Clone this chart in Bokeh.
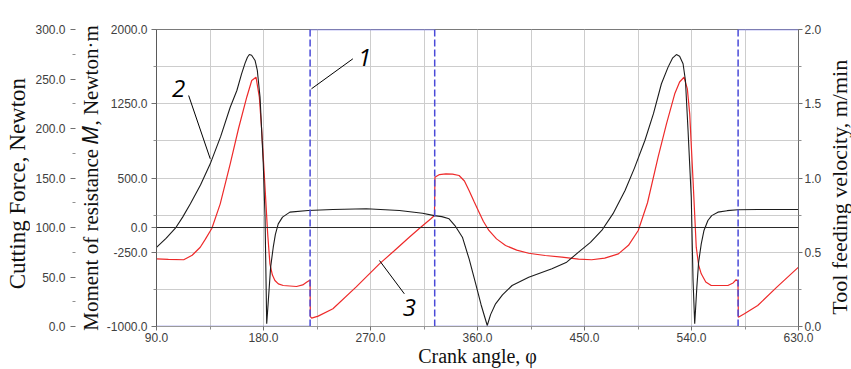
import math
from bokeh.plotting import figure
from bokeh.layouts import row
from bokeh.models import (LinearAxis, Range1d, FixedTicker, NumeralTickFormatter,
                          Label, Span)
from bokeh.embed import file_html
from bokeh.resources import INLINE

# ---------------- data ----------------
angle_force = [90, 98, 105.9, 112, 118.5, 127, 135.2, 144, 152, 157.6, 161.5, 164.5, 166.5,
               168.1, 170, 172.9, 174.8, 177.1, 179.8, 181.3, 182.7, 184, 186, 188.2, 190,
               192.4, 196, 202.2, 217.5, 238.4, 266.4, 294.3, 313.8, 323.6, 330, 336.1,
               341, 347.3, 353, 358.5, 363, 368.2, 371, 375.2, 381, 389.1, 403.1, 422.6,
               435, 445, 455, 464.5, 474, 484.1, 492, 500.8, 508, 514.7, 520.3, 524,
               527.3, 530, 532.9, 534.9, 537.1, 539.8, 541.3, 542.7, 544.5, 546, 548.2,
               550.5, 553.8, 557, 562.2, 570, 578.9, 595.7, 630]
force = [80, 89, 99.3, 110.5, 123.9, 143, 164.3, 192, 221.5, 238.4, 255, 266, 272,
         274.7, 274, 268.7, 258.6, 231.6, 164.3, 110.4, 2.7, 25, 60, 80.1, 93,
         103.7, 110.5, 115.5, 117.2, 118.2, 118.9, 117.2, 114.4, 112, 111, 108.8,
         102, 90.2, 68, 43.1, 22, 1, 12, 22.9, 32, 41.4, 49.8, 58.3,
         65, 75.1, 85, 97, 114, 137.4, 160, 187.9, 215, 245.2, 262, 271,
         274.7, 273, 265.4, 248.5, 198, 130.6, 46.5, 2.7, 40, 65, 83.5,
         97, 107.1, 112, 115.5, 117, 117.9, 118.2, 118.2]

angle_moment = [90, 100, 112.9, 120, 126.8, 131, 136.6, 143.6, 152, 159, 165.9, 170.1,
                173.7, 176.5, 178.5, 181.3, 183.5, 185.4, 187.5, 189.6, 192.5, 196.6,
                207.8, 213, 216.2, 219.2, 219.4, 220.5, 226, 238.4, 258, 277.5, 290,
                302.6, 312, 320.8, 323.8, 324.2, 328, 333.4, 339, 344.5, 349, 352.9,
                357, 361.3, 365, 369.6, 376, 383.6, 393, 403.1, 417, 431, 445, 456,
                467, 478.5, 487, 495.2, 503, 511.9, 519, 525.9, 530, 533.7, 536.5,
                538.5, 541.3, 544, 546, 548.2, 552, 556.6, 570.6, 575, 577.5, 579.1,
                579.4, 584.5, 595.7, 612, 630]
moment = [-316, -322, -326, -280, -199, -120, -7, 239, 643, 1000, 1316, 1485,
          1518, 1316, 980, 400, -60, -367, -480, -535, -570, -586,
          -596, -580, -553, -530, -900, -915, -895, -821, -600, -367, -235,
          -98, 0, 88, 121, 508, 535, 542, 540, 525, 470, 374,
          265, 155, 60, -30, -115, -182, -228, -260, -283, -300, -320, -326,
          -310, -266, -180, -30, 250, 710, 1050, 1350, 1470, 1518, 1400,
          1148, 475, -199, -380, -468, -550, -586, -586, -560, -528, -540,
          -906, -872, -788, -600, -400]

angle_velocity = [90, 219.2, 219.2, 324.0, 324.0, 579.2, 579.2, 630]
velocity = [0, 0, 2, 2, 0, 0, 2, 2]

x_ticks = [90, 180, 270, 360, 450, 540, 630]
x_minor = [135, 225, 315, 405, 495, 585]
x_grid = [90, 135, 180, 225, 270, 315, 360, 405, 450, 495, 540, 585, 630]
moment_ticks = [-1000, -250, 0, 500, 1250, 2000]
moment_minor = [-625, 125, 875, 1625]
moment_grid = [-1000, -625, -250, 125, 500, 875, 1250, 1625, 2000]
force_ticks = [0, 50, 100, 150, 200, 250, 300]
force_minor = [25, 75, 125, 175, 225, 275]
velocity_ticks = [0, 0.5, 1.0, 1.5, 2.0]
velocity_minor = [0.25, 0.75, 1.25, 1.75]

title_force = "Cutting Force, Newton"
title_moment = "Moment of resistance \U0001D440, Newton\u00b7m"
title_velocity = "Tool feeding velocity, m/min"
title_angle = "Crank angle, \u03c6"
curve_labels = ["1", "2", "3"]

# ---------------- layout (page pixels) ----------------
H = 369
LEFT_W, RIGHT_W = 30, 27
MAIN_W = 851 - LEFT_W - RIGHT_W
FL, FR, FT, FB = 156, 801, 29, 326   # frame edges in page pixels

SERIF = "Liberation Serif"
TICK_FONT = "Liberation Sans"
TICK_COLOR = "#404040"


def dx(px):
    return 90 + (px - FL) * 540.0 / (FR - FL)


def dy(py):
    return -1000 + (FB - py) * 3000.0 / (FB - FT)


def title_strip(width, x_off, text, cx, cy, size):
    """A thin figure holding a vertical axis title (reads bottom to top)."""
    f = figure(width=width, height=H, x_range=Range1d(0, width), y_range=Range1d(H, 0),
               x_axis_type=None, y_axis_type=None, output_backend="svg",
               toolbar_location=None, min_border=0)
    f.outline_line_color = None
    f.background_fill_color = "white"
    f.border_fill_color = "white"
    f.add_layout(Label(x=cx - x_off, y=cy, text=text, angle=math.pi / 2,
                       text_font=SERIF, text_font_size=f"{size}px",
                       text_color="#111111", text_align="center", text_baseline="middle"))
    return f


p = figure(width=MAIN_W, height=H, x_range=Range1d(90, 630), y_range=Range1d(-1000, 2000),
           output_backend="svg", toolbar_location=None,
           min_border_left=FL - LEFT_W, min_border_right=LEFT_W + MAIN_W - FR,
           min_border_top=FT, min_border_bottom=H - FB)
p.extra_y_ranges = {"force": Range1d(0, 300), "velocity": Range1d(0, 2)}
p.background_fill_color = "white"
p.border_fill_color = "white"
p.outline_line_color = "#7a7a7a"
p.outline_line_width = 1


def style_axis(ax, ticks, minor, line_color):
    ax.ticker = FixedTicker(ticks=ticks, minor_ticks=minor)
    ax.formatter = NumeralTickFormatter(format="0.0")
    ax.major_label_text_font = TICK_FONT
    ax.major_label_text_font_size = "12px"
    ax.major_label_text_color = TICK_COLOR
    ax.axis_line_color = line_color
    ax.major_tick_line_color = "#707070"
    ax.minor_tick_line_color = "#909090"
    ax.major_tick_in = 0
    ax.minor_tick_in = 0
    ax.major_tick_out = 5
    ax.minor_tick_out = 3


def style_title(ax, title, size, standoff):
    ax.axis_label = title
    ax.axis_label_text_font = SERIF
    ax.axis_label_text_font_style = "normal"
    ax.axis_label_text_font_size = f"{size}px"
    ax.axis_label_text_color = "#111111"
    ax.axis_label_standoff = standoff


# x axis
xa = p.xaxis[0]
style_axis(xa, x_ticks, x_minor, "#9a9a9a")
style_title(xa, title_angle, 20, 0)
xa.major_tick_out = 4
xa.major_label_standoff = 2

# moment axis (inner left)
ya = p.yaxis[0]
style_axis(ya, moment_ticks, moment_minor, "#5a5a5a")
style_title(ya, title_moment, 21, 1)
ya.major_label_standoff = 4

# force axis (outer left)
fa = LinearAxis(y_range_name="force")
style_axis(fa, force_ticks, force_minor, None)
fa.major_label_standoff = 5
p.add_layout(fa, "left")

# velocity axis (right)
va = LinearAxis(y_range_name="velocity")
style_axis(va, velocity_ticks, velocity_minor, "#6a6a6a")
va.major_tick_out = 4
va.major_label_standoff = 2
p.add_layout(va, "right")

p.xgrid.ticker = FixedTicker(ticks=x_grid)
p.ygrid.ticker = FixedTicker(ticks=moment_grid)
for g in (p.xgrid, p.ygrid):
    g.grid_line_color = "#cdcdcd"
    g.grid_line_width = 1

# zero line of the moment scale
p.add_layout(Span(location=0, dimension="width", line_color="#2a2a2a", line_width=1.2))

# curves
p.line(angle_moment, moment, line_color="#ee2a2a", line_width=1.2)
p.line(angle_force, force, y_range_name="force", line_color="#1c1c1c", line_width=1.1)

# velocity: horizontal parts solid, vertical jumps dashed
hx0, hx1, hy0, hy1, vx0, vx1, vy0, vy1 = [], [], [], [], [], [], [], []
for i in range(len(angle_velocity) - 1):
    a0, a1 = angle_velocity[i], angle_velocity[i + 1]
    v0, v1 = velocity[i], velocity[i + 1]
    if v0 == v1:
        hx0.append(a0); hx1.append(a1); hy0.append(v0); hy1.append(v1)
    else:
        vx0.append(a0); vx1.append(a1); vy0.append(v0); vy1.append(v1)
p.segment(hx0, hy0, hx1, hy1, y_range_name="velocity", line_color="#8080ec", line_width=1.6)
p.segment(vx0, vy0, vx1, vy1, y_range_name="velocity", line_color="#4a4ad8",
          line_width=1.5, line_dash="7 3")

# ---------------- curve numbers with leader lines ----------------
num_pos = [(365, 57), (178.3, 88.3), (410, 306.7)]
lead = [((353.3, 58.3), (311.7, 88.3)), ((188.3, 95), (210, 158.3)),
        ((405, 293.3), (380, 260))]
for txt, (px_, py_) in zip(curve_labels, num_pos):
    p.add_layout(Label(x=dx(px_), y=dy(py_), text=txt, text_font="Open Sans",
                       text_font_style="italic", text_font_size="24px",
                       text_color="#000000", text_align="center", text_baseline="middle"))
p.segment([dx(a[0]) for a, b in lead], [dy(a[1]) for a, b in lead],
          [dx(b[0]) for a, b in lead], [dy(b[1]) for a, b in lead],
          line_color="#000000", line_width=1)

# ---------------- outer titles ----------------
left_strip = title_strip(LEFT_W, 0, title_force, 17.3, 191.5, 23)
right_strip = title_strip(RIGHT_W, LEFT_W + MAIN_W, title_velocity, 838.5, 196, 22)

layout = row(left_strip, p, right_strip, spacing=0)
open("out.html", "w").write(file_html(layout, INLINE))
